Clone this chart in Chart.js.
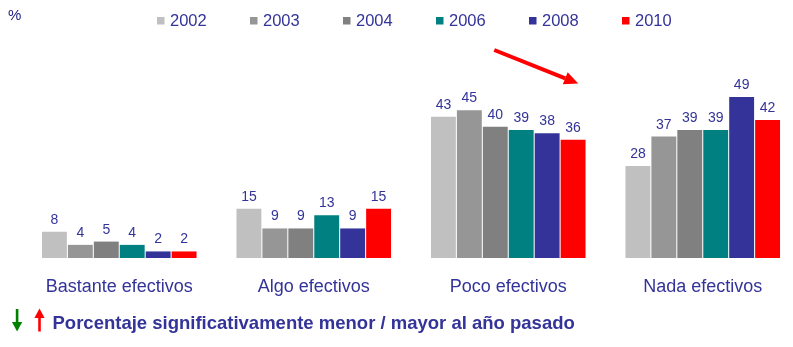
<!DOCTYPE html>
<html>
<head>
<meta charset="utf-8">
<script src="https://cdn.jsdelivr.net/npm/chart.js@4/dist/chart.umd.min.js"></script>
<style>
  html, body { margin: 0; padding: 0; background: #ffffff; overflow: hidden; }
  #wrap { position: relative; width: 800px; height: 347px; }
</style>
</head>
<body>
<div id="wrap"><canvas id="c"></canvas></div>
<script>
// Survey answers by year (%)
const categories = ['Bastante efectivos', 'Algo efectivos', 'Poco efectivos', 'Nada efectivos'];
const years = ['2002', '2003', '2004', '2006', '2008', '2010'];
const v2002 = [8, 15, 43, 28];
const v2003 = [4, 9, 45, 37];
const v2004 = [5, 9, 40, 39];
const v2006 = [4, 13, 39, 39];
const v2008 = [2, 9, 38, 49];
const v2010 = [2, 15, 36, 42];
const seriesValues = [v2002, v2003, v2004, v2006, v2008, v2010];
const seriesColors = ['#C0C0C0', '#969696', '#808080', '#008080', '#333399', '#FF0000'];
const unitLabel = '%';
const footnote = 'Porcentaje significativamente menor / mayor al año pasado';

const FONT = "'Liberation Sans', Arial, sans-serif";
const TEXT_BLUE = '#333399';

// Value above every bar
const valueLabels = {
  id: 'valueLabels',
  afterDatasetsDraw(chart) {
    const ctx = chart.ctx;
    ctx.save();
    ctx.font = '14px ' + FONT;
    ctx.fillStyle = TEXT_BLUE;
    ctx.textAlign = 'center';
    ctx.textBaseline = 'alphabetic';
    chart.data.datasets.forEach((ds, i) => {
      chart.getDatasetMeta(i).data.forEach((bar, j) => {
        ctx.fillText(String(ds.data[j]), bar.x, bar.y - 8);
      });
    });
    ctx.restore();
  }
};

// Unit, legend row, trend arrow and footnote
const decorations = {
  id: 'decorations',
  afterDraw(chart) {
    const ctx = chart.ctx;
    const xs = chart.scales.x;
    ctx.save();

    // unit
    ctx.font = '15px ' + FONT;
    ctx.fillStyle = '#1A1A80';
    ctx.textAlign = 'left';
    ctx.textBaseline = 'alphabetic';
    ctx.fillText(unitLabel, 8, 19.5);

    // legend
    ctx.font = '16.5px ' + FONT;
    ctx.textBaseline = 'alphabetic';
    let lx = 157;
    chart.data.datasets.forEach(ds => {
      ctx.fillStyle = ds.backgroundColor;
      ctx.fillRect(lx, 17, 7.5, 7.5);
      ctx.fillStyle = TEXT_BLUE;
      ctx.fillText(ds.label, lx + 13, 25.7);
      lx += 93;
    });

    // downward trend arrow over the third group
    const cx = xs.getPixelForValue(2);
    const x0 = cx - 14, y0 = 50, x1 = cx + 70, y1 = 83.5;
    const ang = Math.atan2(y1 - y0, x1 - x0);
    const headLen = 14, headHalf = 6.5;
    const bx = x1 - headLen * Math.cos(ang), by = y1 - headLen * Math.sin(ang);
    ctx.strokeStyle = '#FF0000';
    ctx.fillStyle = '#FF0000';
    ctx.lineWidth = 4;
    ctx.lineCap = 'butt';
    ctx.beginPath();
    ctx.moveTo(x0, y0);
    ctx.lineTo(bx, by);
    ctx.stroke();
    ctx.beginPath();
    ctx.moveTo(x1, y1);
    ctx.lineTo(bx + headHalf * Math.sin(ang), by - headHalf * Math.cos(ang));
    ctx.lineTo(bx - headHalf * Math.sin(ang), by + headHalf * Math.cos(ang));
    ctx.closePath();
    ctx.fill();

    // footnote arrows
    // green down
    ctx.fillStyle = '#008000';
    ctx.fillRect(15.8, 309, 2.6, 15);
    ctx.beginPath();
    ctx.moveTo(12, 322);
    ctx.lineTo(22.2, 322);
    ctx.lineTo(17.1, 331.5);
    ctx.closePath();
    ctx.fill();
    // red up
    ctx.fillStyle = '#FF0000';
    ctx.fillRect(38.2, 317, 2.6, 14.5);
    ctx.beginPath();
    ctx.moveTo(34.4, 318);
    ctx.lineTo(44.6, 318);
    ctx.lineTo(39.5, 308.5);
    ctx.closePath();
    ctx.fill();

    // footnote text
    ctx.font = 'bold 18.5px ' + FONT;
    ctx.fillStyle = TEXT_BLUE;
    ctx.textBaseline = 'alphabetic';
    ctx.fillText(footnote, 52.5, 328.5);

    ctx.restore();
  }
};

new Chart(document.getElementById('c'), {
  type: 'bar',
  data: {
    labels: categories,
    datasets: years.map((y, i) => ({
      label: y,
      data: seriesValues[i],
      backgroundColor: seriesColors[i],
      borderWidth: 0,
      categoryPercentage: 0.8,
      barPercentage: 0.96
    }))
  },
  options: {
    responsive: true,
    maintainAspectRatio: false,
    animation: false,
    devicePixelRatio: 1,
    layout: { padding: { left: 22, right: 0, top: 61, bottom: 0 } },
    plugins: {
      legend: { display: false },
      tooltip: { enabled: false },
      title: { display: false }
    },
    scales: {
      x: {
        grid: { display: false, drawTicks: false },
        border: { display: false },
        ticks: {
          font: { family: FONT, size: 18 },
          color: TEXT_BLUE,
          padding: 18,
          maxRotation: 0,
          autoSkip: false
        },
        afterFit(scale) { scale.height = 89; }
      },
      y: {
        display: false,
        min: 0,
        max: 60
      }
    }
  },
  plugins: [valueLabels, decorations]
});
</script>
</body>
</html>
